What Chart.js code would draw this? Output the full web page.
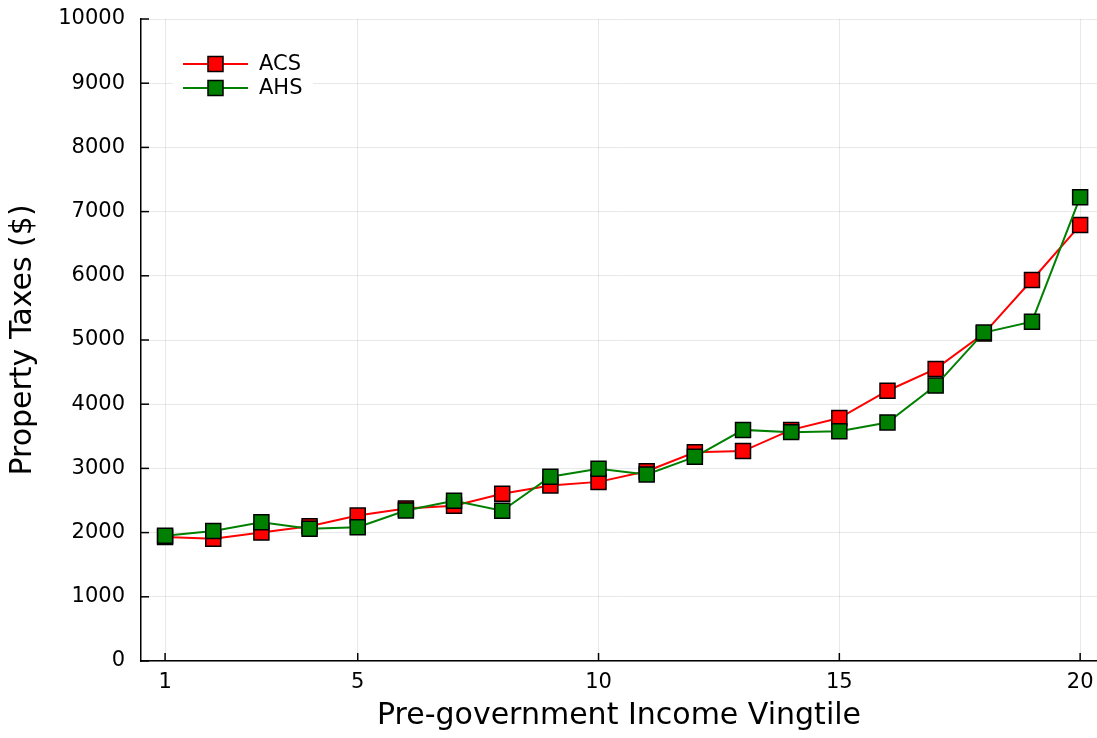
<!DOCTYPE html>
<html>
<head>
<meta charset="utf-8">
<script src="https://cdn.jsdelivr.net/npm/chart.js@4/dist/chart.umd.min.js"></script>
<style>
  html, body { margin: 0; padding: 0; background: #fff; }
  #wrap { width: 1097px; height: 738px; position: relative; }
</style>
</head>
<body>
<div id="wrap"><canvas id="c" width="1097" height="738"></canvas></div>
<script>
const vingtiles = [1,2,3,4,5,6,7,8,9,10,11,12,13,14,15,16,17,18,19,20];
const acsValues = [1930,1905,2000,2100,2265,2375,2420,2605,2735,2790,2955,3250,3270,3600,3785,4210,4550,5100,5935,6790];
const ahsValues = [1950,2025,2160,2060,2085,2345,2495,2340,2870,2995,2905,3180,3600,3565,3580,3715,4290,5115,5285,7225];
const xTickValues = [1,5,10,15,20];
const seriesNames = ['ACS','AHS'];
const seriesColors = ['#ff0000','#008000'];

const FONT = '"DejaVu Sans", "Liberation Sans", sans-serif';

function toPoints(vals) { return vals.map((v, i) => ({x: vingtiles[i], y: v})); }

const innerTicks = {
  id: 'innerTicks',
  afterDraw(chart) {
    const {ctx, chartArea, scales} = chart;
    ctx.save();
    ctx.strokeStyle = '#000';
    ctx.lineWidth = 1.5;
    scales.x.ticks.forEach(t => {
      const px = scales.x.getPixelForValue(t.value);
      ctx.beginPath(); ctx.moveTo(px, chartArea.bottom); ctx.lineTo(px, chartArea.bottom - 8); ctx.stroke();
    });
    scales.y.ticks.forEach(t => {
      const py = scales.y.getPixelForValue(t.value);
      ctx.beginPath(); ctx.moveTo(chartArea.left, py); ctx.lineTo(chartArea.left + 8, py); ctx.stroke();
    });
    ctx.restore();
  }
};

const customLegend = {
  id: 'customLegend',
  afterDatasetsDraw(chart) {
    const {ctx, chartArea} = chart;
    const x0 = chartArea.left + 32, y0 = chartArea.top + 31;
    ctx.save();
    ctx.fillStyle = '#fff';
    ctx.fillRect(x0, y0, 140, 54);
    seriesNames.forEach((name, i) => {
      const cy = y0 + 14 + i * 24;
      ctx.strokeStyle = seriesColors[i];
      ctx.lineWidth = 2;
      ctx.beginPath(); ctx.moveTo(x0 + 10, cy); ctx.lineTo(x0 + 75, cy); ctx.stroke();
      ctx.fillStyle = seriesColors[i];
      ctx.fillRect(x0 + 35, cy - 7.5, 15, 15);
      ctx.strokeStyle = '#000';
      ctx.lineWidth = 1.5;
      ctx.strokeRect(x0 + 35, cy - 7.5, 15, 15);
      ctx.fillStyle = '#000';
      ctx.font = '21px ' + FONT;
      ctx.textBaseline = 'middle';
      ctx.textAlign = 'left';
      ctx.fillText(name, x0 + 86, cy + 1);
    });
    ctx.restore();
  }
};

const mkDataset = (i, vals, order) => ({
  label: seriesNames[i],
  data: toPoints(vals),
  borderColor: seriesColors[i],
  backgroundColor: seriesColors[i],
  borderWidth: 2,
  pointStyle: 'rect',
  pointRadius: 10.6,
  pointBorderColor: '#000',
  pointBorderWidth: 1.5,
  pointBackgroundColor: seriesColors[i],
  tension: 0,
  clip: false,
  order: order
});

new Chart(document.getElementById('c'), {
  type: 'line',
  data: { datasets: [mkDataset(0, acsValues, 1), mkDataset(1, ahsValues, 0)] },
  options: {
    responsive: false,
    animation: false,
    layout: { autoPadding: false, padding: { top: 19, right: 0, left: 0, bottom: 0 } },
    plugins: { legend: { display: false }, tooltip: { enabled: false } },
    scales: {
      x: {
        type: 'linear',
        min: 0.5,
        max: 20.35,
        afterBuildTicks(scale) { scale.ticks = xTickValues.map(v => ({value: v})); },
        afterFit(scale) { scale.height = 77; scale.paddingLeft = 0; scale.paddingRight = 0; },
        grid: { color: 'rgba(0,0,0,0.09)', lineWidth: 1, drawTicks: false },
        border: { display: true, color: '#000', width: 1.5 },
        ticks: { color: '#000', font: { family: FONT, size: 21 }, padding: 9, maxRotation: 0 },
        title: { display: true, text: 'Pre-government Income Vingtile', color: '#000',
                 font: { family: FONT, size: 30 }, padding: { top: 0, bottom: 4 } }
      },
      y: {
        min: 0,
        max: 10000,
        afterFit(scale) { scale.width = 141; scale.paddingTop = 0; scale.paddingBottom = 0; },
        ticks: { stepSize: 1000, color: '#000', font: { family: FONT, size: 21 }, padding: 16,
                 callback: v => String(v) },
        grid: { color: 'rgba(0,0,0,0.09)', lineWidth: 1, drawTicks: false },
        border: { display: true, color: '#000', width: 1.5 },
        title: { display: true, text: 'Property Taxes ($)', color: '#000',
                 font: { family: FONT, size: 30 }, padding: { top: 5, bottom: 0 } }
      }
    }
  },
  plugins: [innerTicks, customLegend]
});
</script>
</body>
</html>
